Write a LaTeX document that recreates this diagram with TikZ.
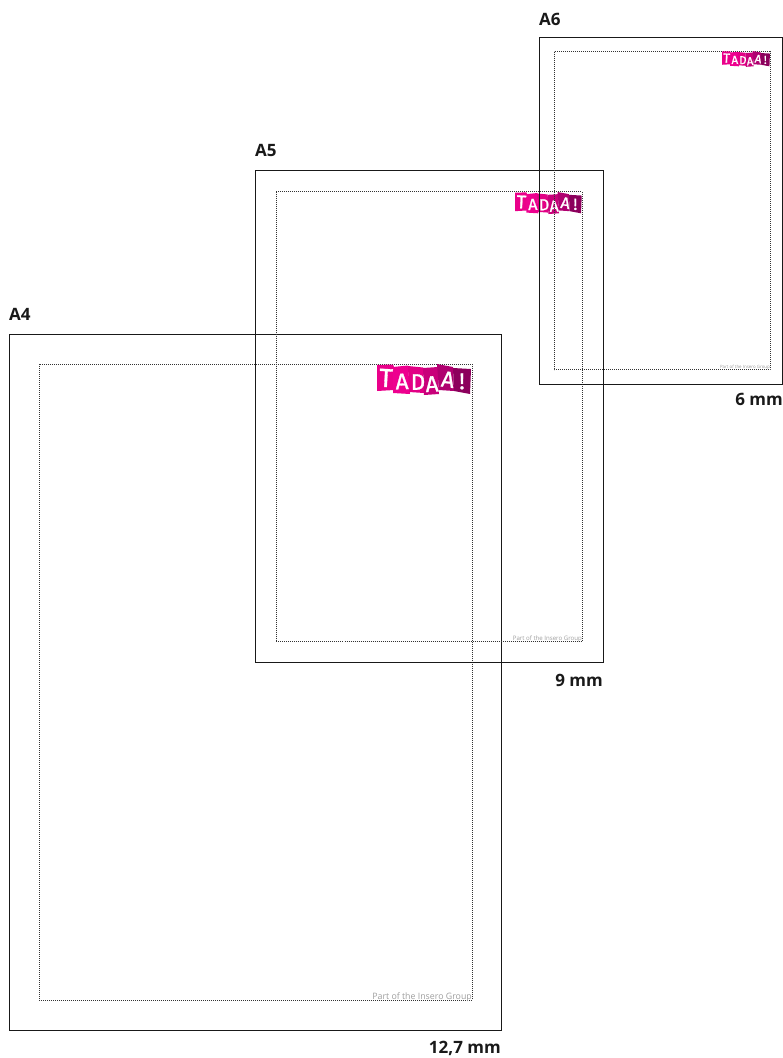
\documentclass[tikz,border=0pt]{standalone}
\usepackage{fontspec}
\setmainfont{Open Sans}
\newfontfamily\logofont[FakeBold=1.2]{Fira Sans}
\definecolor{magA}{HTML}{EA008A}
\definecolor{magB}{HTML}{EE008F}
\definecolor{magC}{HTML}{E20085}
\definecolor{magD}{HTML}{C8007A}
\definecolor{magE}{HTML}{B00070}
\definecolor{magF}{HTML}{8C005C}
\tikzset{
  x=1pt,y=-1pt,
  sheet/.style={draw=black!90,line width=.8pt},
  margin/.style={draw=black!80,line width=.75pt,dash pattern=on .9pt off 1.1pt},
  sizelabel/.style={font=\fontsize{17}{18}\selectfont\bfseries,text=black!90,inner sep=0pt},
  credit/.style={text=black!38,inner sep=0pt,anchor=east},
  letter/.style={text=white,inner sep=0pt,transform shape,font=\logofont\fontsize{22.5}{26}\selectfont},
}
\newcommand{\tadaa}[4]{% x, y, scale, prefix
  \begin{scope}[shift={(#1,#2)},scale=#3]
    \fill[magA] (0,1) -- (16,0.5) -- (17,3) -- (17,26) -- (0,27) -- cycle;
    \fill[magB] (16,3) -- (31,1.5) -- (33,30) -- (16,29) -- cycle;
    \fill[magC] (31,2) -- (46,3.5) -- (47,29) -- (32,28) -- cycle;
    \fill[magD] (46,4) -- (61,3) -- (62,30) -- (47,31) -- cycle;
    \fill[magE] (60,0) -- (76,3) -- (77,27) -- (62,26) -- cycle;
    \fill[magF] (76,4) -- (94,5) -- (93,30) -- (77,27) -- cycle;
    \node[letter,rotate=-3,font=\logofont\fontsize{26}{26}\selectfont] (#4t) at (9,14) {T};
    \node[letter,rotate=2] (#4a) at (25,17.5) {A};
    \node[letter] (#4d) at (41,18) {D};
    \node[letter,rotate=3] (#4e) at (55,20) {A};
    \node[letter,rotate=-8] (#4f) at (71,15.5) {A};
    \node[letter] (#4g) at (85,17.5) {!};
  \end{scope}}
\begin{document}
\begin{tikzpicture}
\useasboundingbox (0,0) rectangle (783,1058);
% A4
\node[sizelabel,anchor=west] (lfour) at (9,314) {A4};
\draw[sheet] (9,334) rectangle (501,1030);
\draw[margin] (39,364) rectangle (472,1000);
\tadaa{377}{364}{1}{p}
\node[credit,font=\fontsize{8.8}{11}\selectfont] (cfour) at (472,997) {Part of the Insero Group};
\node[sizelabel,anchor=east] (mfour) at (501,1048.5) {12,7 mm};
% A5
\node[sizelabel,anchor=west] (lfive) at (255,150.5) {A5};
\draw[sheet] (255,170) rectangle (603,662);
\draw[margin] (276,191.5) rectangle (582,641);
\tadaa{515}{192}{.71}{q}
\node[credit,font=\fontsize{6.1}{8}\selectfont] (cfive) at (582,638.8) {Part of the Insero Group};
\node[sizelabel,anchor=east] (mfive) at (603,680.5) {9 mm};
% A6
\node[sizelabel,anchor=west] (lsix) at (539,19.5) {A6};
\draw[sheet] (539,37) rectangle (782.6,384);
\draw[margin] (554,51.5) rectangle (770,369.5);
\tadaa{722}{51}{.51}{r}
\node[credit,font=\fontsize{4.4}{6}\selectfont] (csix) at (770,367.7) {Part of the Insero Group};
\node[sizelabel,anchor=east] (msix) at (783,399.5) {6 mm};
\end{tikzpicture}
\end{document}
